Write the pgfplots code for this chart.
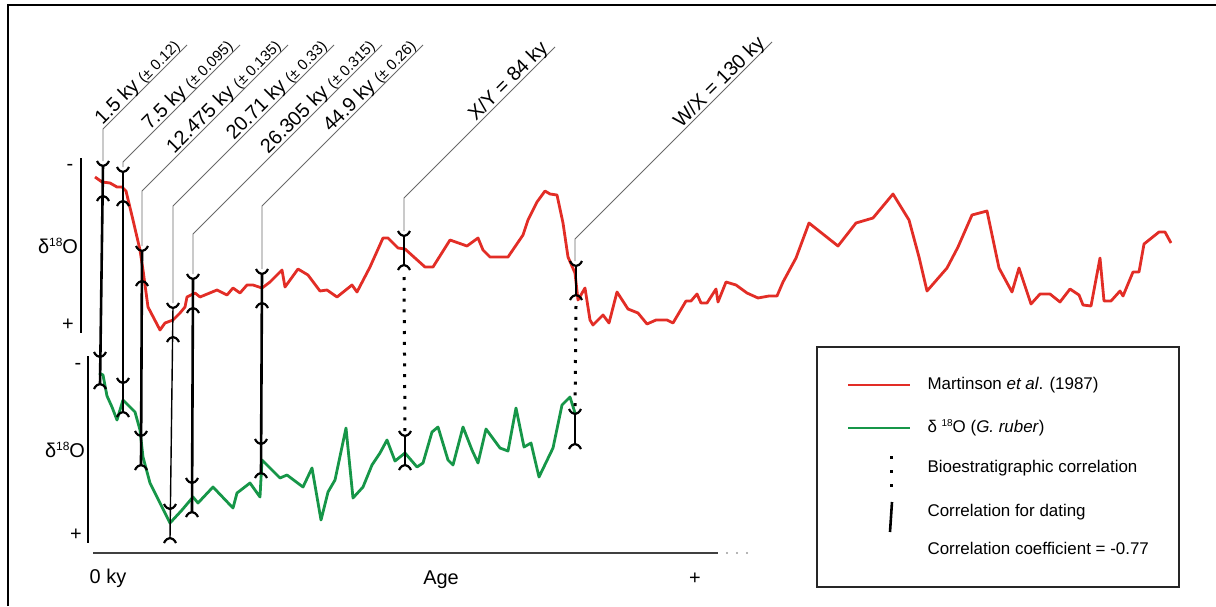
\documentclass[border=0pt]{standalone}
\usepackage{fontspec}
\setmainfont{Liberation Sans}
\usepackage{pgfplots}
\pgfplotsset{compat=1.18}
\definecolor{cred}{RGB}{226,45,38}
\definecolor{cgreen}{RGB}{22,150,72}
\definecolor{lead}{RGB}{105,105,105}
\pgfdeclareplotmark{cupY}{%
  \pgfpathmoveto{\pgfqpoint{-6bp}{4bp}}%
  \pgfpathcurveto{\pgfqpoint{-4.5bp}{0.5bp}}{\pgfqpoint{-1.5bp}{-1bp}}{\pgfqpoint{0bp}{-1bp}}%
  \pgfpathcurveto{\pgfqpoint{1.5bp}{-1bp}}{\pgfqpoint{4.5bp}{0.5bp}}{\pgfqpoint{6bp}{4bp}}%
  \pgfusepathqstroke}
\pgfdeclareplotmark{capY}{%
  \pgfpathmoveto{\pgfqpoint{-6bp}{-4bp}}%
  \pgfpathcurveto{\pgfqpoint{-4.5bp}{-0.5bp}}{\pgfqpoint{-1.5bp}{1bp}}{\pgfqpoint{0bp}{1bp}}%
  \pgfpathcurveto{\pgfqpoint{1.5bp}{1bp}}{\pgfqpoint{4.5bp}{-0.5bp}}{\pgfqpoint{6bp}{-4bp}}%
  \pgfusepathqstroke}
\newcommand{\bigf}{\fontsize{20}{24}\selectfont}
\newcommand{\sml}{\fontsize{15}{18}\selectfont}
\newcommand{\leg}{\fontsize{17}{20}\selectfont}
\begin{document}
\begin{tikzpicture}
\begin{axis}[width=1216bp, height=606bp, scale only axis,
  xmin=0, xmax=1216, ymin=0, ymax=606, y dir=reverse,
  hide axis, clip=false]
\coordinate (ll) at (axis cs:0,606);
\coordinate (ur) at (axis cs:1216,0);
% frame
\draw[line width=1.6bp] (axis cs:8,606) -- (axis cs:8,5) -- (axis cs:1216,5);
% axes
\draw[line width=2bp] (axis cs:80.5,158) -- (axis cs:80.5,333);
\draw[line width=2bp] (axis cs:88,356) -- (axis cs:88,543);
\draw[line width=2.2bp, black!75] (axis cs:93,553) -- (axis cs:718,553);
\addplot[only marks, mark=*, mark size=0.9bp, gray!70] coordinates {(727,553) (737,553) (747,553)};
\node[font=\bigf] at (axis cs:70,167) {-};
\node[font=\bigf] at (axis cs:68,325) {+};
\node[font=\bigf] at (axis cs:78,366) {-};
\node[font=\bigf] at (axis cs:76,535) {+};
\node[font=\bigf] at (axis cs:58,246) {δ\raisebox{7bp}{\fontsize{12}{12}\selectfont 18}O};
\node[font=\bigf] at (axis cs:65,450) {δ\raisebox{7bp}{\fontsize{12}{12}\selectfont 18}O};
\node[font=\bigf] at (axis cs:108,578) {0 ky};
\node[font=\bigf] at (axis cs:441,580) {Age};
\node[font=\bigf] at (axis cs:695,579) {+};
% Martinson curve
\addplot[cred, line width=2.8bp, line join=round] coordinates {
(95,177) (102,182) (110,183) (117,187) (122,187) (126,191) (133,220) (140,250) (143,270) (148,307) (160,330) (165,323) (173,320) (180,313) (185,307) (187,297) (195,293) (200,297) (217,290) (227,295) (233,288) (240,293) (247,285) (253,285) (262,288) (270,282) (282,270) (285,287) (298,269) (308,275) (320,291) (327,290) (337,297) (352,285) (357,292) (370,267) (383,238) (388,238) (398,248) (405,249) (425,267) (433,267) (450,240) (467,246) (478,238) (483,250) (490,257) (508,257) (523,235) (528,220) (537,202) (545,191) (550,194) (557,195) (563,223) (568,257) (575,273) (578,300) (585,288) (590,320) (593,325) (603,315) (609,323) (617,292) (628,309) (638,313) (647,324) (656,320) (667,320) (673,323) (686,301) (691,301) (697,294) (701,303) (707,303) (716,289) (718,302) (726,282) (736,285) (747,293) (758,298) (769,296) (777,296) (783,282) (796,258) (809,223) (838,246) (856,223) (873,218) (893,194) (909,220) (919,257) (927,291) (947,268) (958,247) (972,215) (987,211) (999,268) (1012,292) (1019,268) (1031,304) (1040,294) (1050,294) (1060,302) (1070,289) (1079,295) (1083,305) (1091,306) (1100,258) (1104,301) (1111,301) (1120,291) (1123,296) (1133,272) (1139,272) (1144,244) (1159,232) (1165,232) (1171,243)};
% G. ruber curve
\addplot[cgreen, line width=2.8bp, line join=round] coordinates {
(99,373) (103,375) (107,396) (112,407) (117,420) (123,400) (135,412) (140,430) (143,457) (150,483) (160,503) (170,523) (182,510) (193,497) (198,503) (213,487) (233,508) (237,493) (250,483) (260,497) (262,460) (280,478) (287,475) (303,487) (312,468) (321,520) (328,492) (335,480) (346,428) (353,498) (363,487) (372,465) (380,453) (387,440) (395,461) (405,453) (417,467) (423,463) (432,432) (438,427) (448,460) (453,465) (463,427) (472,450) (478,463) (486,429) (500,448) (508,451) (516,408) (524,447) (531,443) (539,477) (553,448) (562,405) (570,397) (575,413)};
% dating correlation bars
\addplot[black, line width=2.6bp] coordinates {(103,165) (100,385)};
\addplot[black, line width=2.6bp] coordinates {(123,171) (123,413)};
\addplot[black, line width=2.6bp] coordinates {(142,250) (141,466)};
\addplot[black, line width=1.4bp] coordinates {(173,307) (170,539)};
\addplot[black, line width=2.6bp] coordinates {(193,278) (192,513)};
\addplot[black, line width=2.6bp] coordinates {(262,273) (261,474)};
% biostratigraphic bars
\addplot[black, line width=2.6bp] coordinates {(404,235) (404,266)};
\addplot[black, line width=3bp, dash pattern=on 3bp off 7.8bp] coordinates {(404,277) (405,432)};
\addplot[black, line width=2.6bp] coordinates {(405,435) (405,466)};
\addplot[black, line width=2.6bp] coordinates {(576,265) (576,296)};
\addplot[black, line width=3bp, dash pattern=on 3bp off 7.8bp] coordinates {(576,306) (575,410)};
\addplot[black, line width=2.6bp] coordinates {(575,413) (575,445)};
% caps
\addplot[only marks, mark=cupY, mark options={line width=2.2bp, black}] coordinates {
(103,165) (100,356) (123,171) (123,382) (142,250) (141,435) (173,307) (170,508) (193,278) (192,482) (262,273) (261,443) (404,235) (405,435) (576,265) (575,413)};
\addplot[only marks, mark=capY, mark options={line width=2.2bp, black}] coordinates {
(103,197) (100,385) (123,202) (123,413) (142,282) (141,466) (173,338) (170,539) (193,309) (192,513) (262,304) (261,474) (404,266) (405,466) (576,296) (575,445)};
% leader lines and labels
\draw[lead, line width=0.9bp] (axis cs:103,161) -- (axis cs:103,129) -- (axis cs:187,45);
\draw[lead, line width=0.9bp] (axis cs:123,167) -- (axis cs:123,162) -- (axis cs:240,45);
\draw[lead, line width=0.9bp] (axis cs:142,246) -- (axis cs:142,191) -- (axis cs:288,45);
\draw[lead, line width=0.9bp] (axis cs:173,303) -- (axis cs:173,206) -- (axis cs:334,45);
\draw[lead, line width=0.9bp] (axis cs:193,274) -- (axis cs:193,234) -- (axis cs:382,45);
\draw[lead, line width=0.9bp] (axis cs:262,269) -- (axis cs:262,206) -- (axis cs:423,45);
\draw[lead, line width=0.9bp] (axis cs:404,231) -- (axis cs:404,198) -- (axis cs:555,47);
\draw[lead, line width=0.9bp] (axis cs:575,261) -- (axis cs:575,239) -- (axis cs:772,42);
\node[rotate=45, anchor=base east, inner sep=0pt] at (axis cs:180.7,47.1) {\bigf 1.5 ky \sml(± 0.12)};
\node[rotate=45, anchor=base east, inner sep=0pt] at (axis cs:233.7,47.1) {\bigf 7.5 ky \sml(± 0.095)};
\node[rotate=45, anchor=base east, inner sep=0pt] at (axis cs:281.7,47.1) {\bigf 12.475 ky \sml(± 0.135)};
\node[rotate=45, anchor=base east, inner sep=0pt] at (axis cs:327.7,47.1) {\bigf 20.71 ky \sml(± 0.33)};
\node[rotate=45, anchor=base east, inner sep=0pt] at (axis cs:375.7,47.1) {\bigf 26.305 ky \sml(± 0.315)};
\node[rotate=45, anchor=base east, inner sep=0pt] at (axis cs:416.7,47.1) {\bigf 44.9 ky \sml(± 0.26)};
\node[rotate=45, anchor=base east, inner sep=0pt] at (axis cs:548.7,49.1) {\bigf X/Y = 84 ky};
\node[rotate=45, anchor=base east, inner sep=0pt] at (axis cs:765.7,44.1) {\bigf W/X = 130 ky};
% legend
\draw[line width=1.8bp, black!85] (axis cs:817,347) rectangle (axis cs:1179,587);
\addplot[cred, line width=2.8bp] coordinates {(848,385) (910,385)};
\addplot[cgreen, line width=2.8bp] coordinates {(848,428) (910,428)};
\addplot[only marks, mark=square*, mark size=1.3bp, black] coordinates {(891,457) (891,471) (891,485)};
\addplot[black, line width=2.6bp] coordinates {(892,502) (890,532)};
\node[anchor=west, font=\leg] at (axis cs:924,385) {Martinson \textit{et al}. (1987)};
\node[anchor=west, font=\leg] at (axis cs:924,428) {δ \raisebox{6bp}{\fontsize{10}{10}\selectfont 18}O (\textit{G. ruber})};
\node[anchor=west, font=\leg] at (axis cs:924,468) {Bioestratigraphic correlation};
\node[anchor=west, font=\leg] at (axis cs:924,512) {Correlation for dating};
\node[anchor=west, font=\leg] at (axis cs:924,548) {Correlation coefficient = -0.77};
\end{axis}
\pgfresetboundingbox
\useasboundingbox (ll) rectangle (ur);
\end{tikzpicture}
\end{document}
